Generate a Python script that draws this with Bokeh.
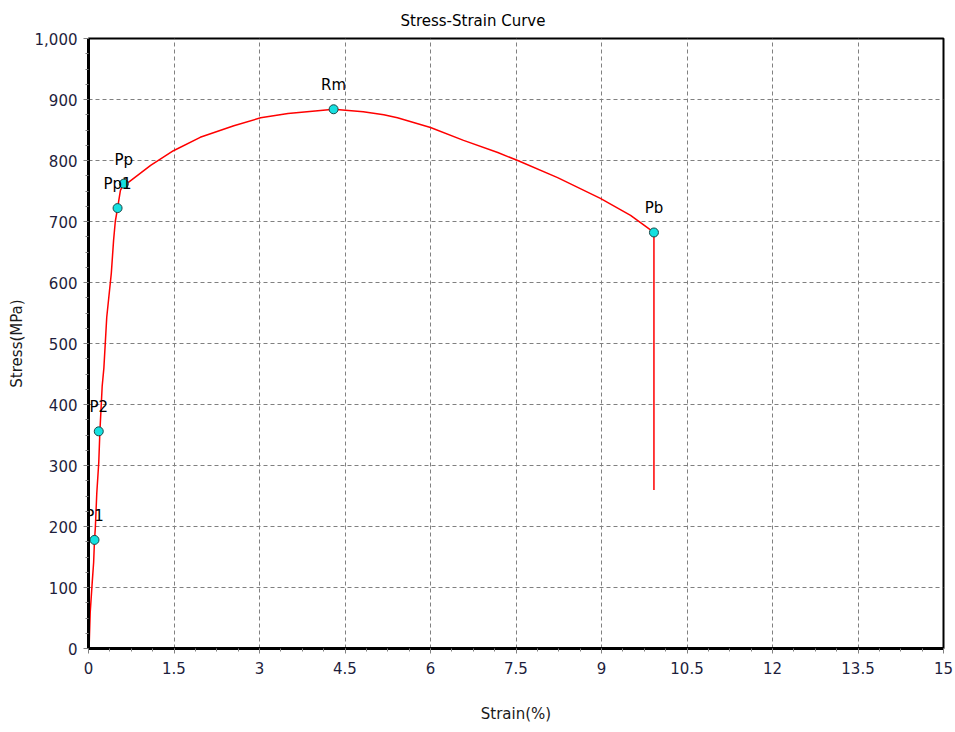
from bokeh.plotting import figure
from bokeh.models import (FixedTicker, NumeralTickFormatter, ColumnDataSource,
                          Range1d, Title)
from bokeh.embed import file_html
from bokeh.resources import INLINE

# Tensile test curve (strain in %, stress in MPa)
strain = [0, 0.01, 0.03, 0.065, 0.09, 0.105, 0.12, 0.145, 0.18, 0.2, 0.24,
          0.27, 0.32, 0.40, 0.44, 0.47, 0.51, 0.56, 0.62, 0.70, 1.09, 1.49,
          1.96, 2.55, 3.02, 3.5, 4.07, 4.3, 4.82, 5.18, 5.42, 6.0, 6.58,
          7.18, 7.53, 8.23, 8.98, 9.51, 9.92, 9.92]
stress = [0, 0, 59, 108, 141, 177, 198, 254, 305, 356, 430,
          460, 543, 615, 669, 700, 722, 751, 762, 764, 792, 816,
          838, 857, 870, 877, 882, 884, 880, 875, 870, 854, 833,
          813, 800, 772, 738, 710, 682, 260]

# Characteristic points
pt_names = ["P1", "P2", "Pp1", "Pp", "Rm", "Pb"]
pt_strain = [0.105, 0.18, 0.51, 0.62, 4.30, 9.92]
pt_stress = [178, 356, 722, 762, 884, 682]

x_ticks = [0, 1.5, 3, 4.5, 6, 7.5, 9, 10.5, 12, 13.5, 15]
y_ticks = [0, 100, 200, 300, 400, 500, 600, 700, 800, 900, 1000]

FONT = "DejaVu Sans"
TICK_COLOR = "#1e1e3c"

p = figure(width=955, height=732, output_backend="svg", toolbar_location=None,
           x_range=Range1d(0, 15), y_range=Range1d(0, 1000),
           min_border_left=88, min_border_right=12,
           min_border_top=38, min_border_bottom=84,
           background_fill_color="white", border_fill_color="white")

# Title centred on the whole canvas rather than the frame
p.add_layout(Title(text="Stress-Strain Curve", align="left", offset=312,
                   text_font=FONT, text_font_size="15px",
                   text_font_style="normal", text_color="black",
                   standoff=18), "above")

p.outline_line_color = "black"
p.outline_line_width = 2
p.outline_line_alpha = 1

# Axes
p.xaxis.ticker = FixedTicker(ticks=x_ticks,
                             minor_ticks=[i * 0.375 for i in range(41)])
p.yaxis.ticker = FixedTicker(ticks=y_ticks,
                             minor_ticks=[i * 25 for i in range(41)])
p.yaxis.formatter = NumeralTickFormatter(format="0,0")
p.xaxis.major_label_overrides = {0: "0", 1.5: "1.5", 3: "3", 4.5: "4.5",
                                 6: "6", 7.5: "7.5", 9: "9", 10.5: "10.5",
                                 12: "12", 13.5: "13.5", 15: "15"}

for ax in (p.xaxis[0], p.yaxis[0]):
    ax.axis_line_color = "black"
    ax.axis_line_width = 3
    ax.major_tick_line_color = "#808080"
    ax.minor_tick_line_color = "#808080"
    ax.major_tick_in = 0
    ax.major_tick_out = 5
    ax.minor_tick_in = 0
    ax.minor_tick_out = 3
    ax.major_label_text_font = FONT
    ax.major_label_text_font_size = "15px"
    ax.major_label_text_color = TICK_COLOR
    ax.axis_label_text_font = FONT
    ax.axis_label_text_font_size = "15px"
    ax.axis_label_text_font_style = "normal"
    ax.axis_label_text_color = "#1a1a1a"

p.xaxis.axis_label = "Strain(%)"
p.yaxis.axis_label = "Stress(MPa)"
p.xaxis.major_label_standoff = 8
p.yaxis.major_label_standoff = 6
p.xaxis.axis_label_standoff = 28
p.yaxis.axis_label_standoff = 6

# Grid
for g in (p.xgrid[0], p.ygrid[0]):
    g.grid_line_color = "#808080"
    g.grid_line_dash = "4 3"
    g.grid_line_width = 1

# Curve
p.line(strain, stress, line_color="#ff0000", line_width=1.5)

# Marked points with labels
src = ColumnDataSource(dict(x=pt_strain, y=pt_stress, name=pt_names))
p.scatter("x", "y", source=src, marker="circle", size=9,
          fill_color="#16e0e0", line_color="#1a4848", line_width=1)
p.text("x", "y", text="name", source=src, text_align="center",
       text_baseline="middle", y_offset=-24, text_font_size="15px",
       text_color="black", text_font={"value": FONT})

open("out.html", "w").write(file_html(p, INLINE))
